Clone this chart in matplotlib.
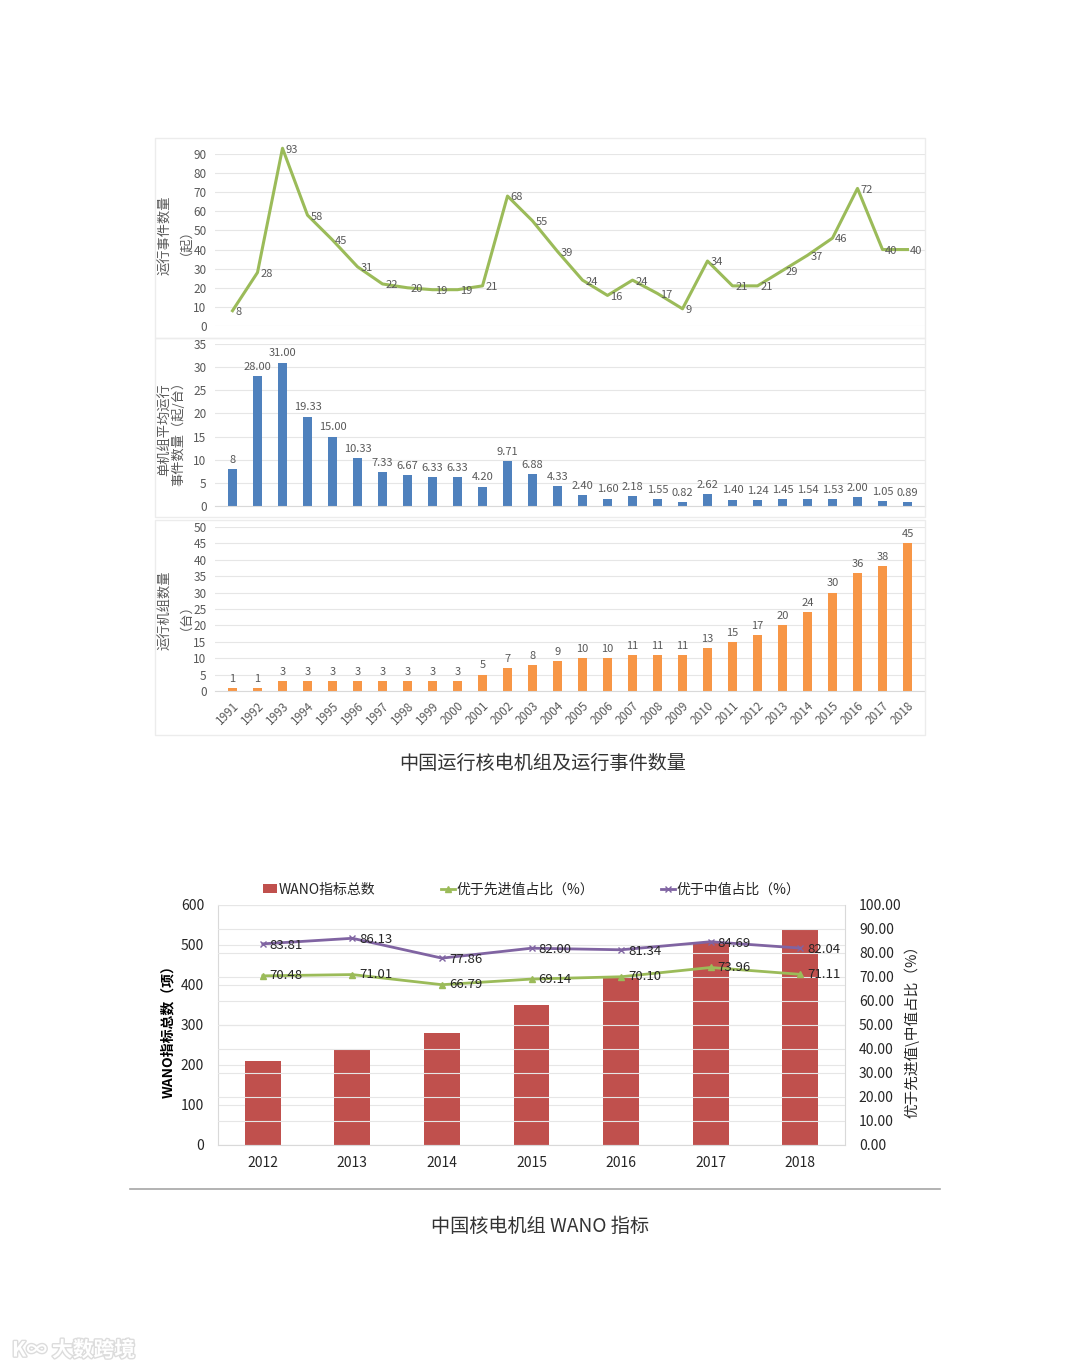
import matplotlib
matplotlib.use("Agg")
import matplotlib.pyplot as plt
from matplotlib.patches import Rectangle, Patch
from matplotlib.lines import Line2D
import matplotlib.patheffects as pe

plt.rcParams['font.family'] = ['Noto Sans CJK SC', 'DejaVu Sans']

W, H = 1080, 1369

# ---- data: chart 1 (1991-2018) ----
years = [str(y) for y in range(1991, 2019)]
events = [8, 28, 93, 58, 45, 31, 22, 20, 19, 19, 21, 68, 55, 39, 24, 16, 24, 17,
          9, 34, 21, 21, 29, 37, 46, 72, 40, 40]
per_unit = [8, 28.00, 31.00, 19.33, 15.00, 10.33, 7.33, 6.67, 6.33, 6.33, 4.20,
            9.71, 6.88, 4.33, 2.40, 1.60, 2.18, 1.55, 0.82, 2.62, 1.40, 1.24,
            1.45, 1.54, 1.53, 2.00, 1.05, 0.89]
per_unit_labels = ["8"] + ["%.2f" % v for v in per_unit[1:]]
units = [1, 1, 3, 3, 3, 3, 3, 3, 3, 3, 5, 7, 8, 9, 10, 10, 11, 11, 11, 13, 15,
         17, 20, 24, 30, 36, 38, 45]

# ---- data: chart 2 (WANO) ----
wano_years = ["2012", "2013", "2014", "2015", "2016", "2017", "2018"]
wano_total = [210, 238, 280, 350, 420, 505, 540]
better_adv = [70.48, 71.01, 66.79, 69.14, 70.10, 73.96, 71.11]
better_med = [83.81, 86.13, 77.86, 82.00, 81.34, 84.69, 82.04]

GREEN = "#9BBB59"
BLUE = "#4F81BD"
ORANGE = "#F79646"
RED = "#C0504D"
PURPLE = "#8064A2"
GRID = "#e6e6e6"
TXT = "#595959"

fig = plt.figure(figsize=(W / 100, H / 100), dpi=100)


def px_axes(x0, y0, x1, y1):
    # axes from pixel box (top-left origin)
    return fig.add_axes([x0 / W, 1 - y1 / H, (x1 - x0) / W, (y1 - y0) / H])


def fig_rect(x0, y0, x1, y1):
    fig.patches.append(Rectangle((x0 / W, 1 - y1 / H), (x1 - x0) / W, (y1 - y0) / H,
                                 transform=fig.transFigure, fill=False,
                                 edgecolor="#ececec", linewidth=1))


def style_panel(ax, ymax, step):
    ax.set_xlim(-0.7, 27.7)
    ax.set_ylim(0, ymax)
    ax.set_yticks(range(0, ymax + 1, step))
    ax.tick_params(axis="y", length=0, labelsize=8.5, labelcolor=TXT, pad=6)
    ax.grid(axis="y", color=GRID, linewidth=0.8)
    ax.set_axisbelow(True)
    for s in ["top", "right", "left"]:
        ax.spines[s].set_visible(False)
    ax.spines["bottom"].set_color("#d9d9d9")


def side_label(y, text):
    fig.text(172 / W, 1 - y / H, text, rotation=90, ha="center", va="center",
             fontsize=9.5, color=TXT, linespacing=1.0)


x = list(range(len(years)))

# panel frames
fig_rect(155, 138, 925, 338)
fig_rect(155, 338, 925, 517)
fig_rect(155, 520, 925, 735)

# panel 1: events line
ax1 = px_axes(215, 154, 925, 326)
style_panel(ax1, 90, 10)
ax1.spines["bottom"].set_visible(False)
ax1.plot(x, events, color=GREEN, linewidth=2.2, clip_on=False)
for xi, v in zip(x, events):
    ax1.annotate(str(v), (xi, v), xytext=(2, -1), textcoords="offset points",
                 ha="left", va="center", fontsize=8, color=TXT,
                 annotation_clip=False)
ax1.set_xticks([])
side_label(235, "运行事件数量\n（起）")

# panel 2: per-unit events
ax2 = px_axes(215, 344, 925, 506)
style_panel(ax2, 35, 5)
ax2.bar(x, per_unit, width=0.36, color=BLUE)
for xi, v, lab in zip(x, per_unit, per_unit_labels):
    ax2.annotate(lab, (xi, v), xytext=(0, 3), textcoords="offset points",
                 ha="center", va="bottom", fontsize=8, color=TXT)
ax2.set_xticks([])
side_label(430, "单机组平均运行\n事件数量（起/台）")

# panel 3: operating units
ax3 = px_axes(215, 527, 925, 691)
style_panel(ax3, 50, 5)
ax3.bar(x, units, width=0.34, color=ORANGE)
for xi, v in zip(x, units):
    ax3.annotate(str(v), (xi, v), xytext=(0, 3), textcoords="offset points",
                 ha="center", va="bottom", fontsize=8, color=TXT)
ax3.set_xticks(x)
ax3.set_xticklabels(years, rotation=45, ha="right", rotation_mode="anchor",
                    fontsize=8.5, color=TXT)
ax3.tick_params(axis="x", length=0, pad=6)
side_label(610, "运行机组数量\n（台）")

fig.text(543 / W, 1 - 763 / H, "中国运行核电机组及运行事件数量", ha="center",
         va="center", fontsize=13.8, color="#333333")

# ---- WANO chart ----
axw = px_axes(218, 905, 845, 1145)
wx = list(range(len(wano_years)))
axw.bar(wx, wano_total, width=0.4, color=RED, zorder=2)
axw.set_xlim(-0.5, 6.5)
axw.set_ylim(0, 600)
axw.set_yticks(range(0, 601, 100))
axw.set_xticks(wx)
axw.set_xticklabels(wano_years)
axw.tick_params(axis="both", length=0, labelsize=10, labelcolor="#262626")
axw.tick_params(axis="x", pad=8)
axw.tick_params(axis="y", pad=10)
axw.grid(axis="y", color=GRID, linewidth=0.8, zorder=0)
axw.set_axisbelow(True)
for s in ["top", "right"]:
    axw.spines[s].set_visible(False)
axw.spines["left"].set_color("#d9d9d9")
axw.spines["bottom"].set_color("#d9d9d9")

axr = axw.twinx()
axr.set_ylim(0, 100)
axr.set_yticks(range(0, 101, 10))
axr.set_yticklabels(["%.2f" % v for v in range(0, 101, 10)])
axr.tick_params(axis="y", length=0, labelsize=10, labelcolor="#262626", pad=10)
axr.grid(axis="y", color=GRID, linewidth=0.8)
for s in ["top", "left", "bottom"]:
    axr.spines[s].set_visible(False)
axr.spines["right"].set_color("#d9d9d9")
axr.plot(wx, better_adv, color=GREEN, linewidth=2, marker="^", markersize=4)
axr.plot(wx, better_med, color=PURPLE, linewidth=2, marker="x", markersize=4,
         markeredgewidth=1)
for xi, v in zip(wx, better_adv):
    axr.annotate("%.2f" % v, (xi, v), xytext=(5, 0), textcoords="offset points",
                 ha="left", va="center", fontsize=9.5, color="#262626")
for xi, v in zip(wx, better_med):
    axr.annotate("%.2f" % v, (xi, v), xytext=(5, -1), textcoords="offset points",
                 ha="left", va="center", fontsize=9.5, color="#262626")

handles = [Patch(facecolor=RED, label="WANO指标总数"),
           Line2D([], [], color=GREEN, marker="^", markersize=4, linewidth=2,
                  label="优于先进值占比（%）"),
           Line2D([], [], color=PURPLE, marker="x", markersize=4, linewidth=2,
                  label="优于中值占比（%）")]
axw.legend(handles=handles, ncol=3, loc="lower center", bbox_to_anchor=(0.5, 1.0),
           frameon=False, fontsize=10, handlelength=1.0, handletextpad=0.1,
           columnspacing=4.8, handleheight=0.6, borderaxespad=0.2,
           labelcolor="#262626")

fig.text(168 / W, 1 - 1028 / H, "WANO指标总数（项）", rotation=90, ha="center",
         va="center", fontsize=10, color="#000000", fontweight="bold")
fig.text(912 / W, 1 - 1028 / H, "优于先进值\\中值占比（%）", rotation=90,
         ha="center", va="center", fontsize=10.5, color="#262626")

fig.add_artist(Line2D([130 / W, 940 / W], [1 - 1189 / H, 1 - 1189 / H],
                      color="#a6a6a6", linewidth=1.2))
fig.text(540 / W, 1 - 1226 / H, "中国核电机组 WANO 指标", ha="center", va="center",
         fontsize=13.8, color="#333333")

# faint watermark
fig.text(12 / W, 1 - 1350 / H, "K∞ 大数跨境", ha="left", va="center",
         fontsize=15, color="#ffffff", fontweight="bold",
         path_effects=[pe.withStroke(linewidth=2, foreground="#dcdcdc")])

fig.savefig("out.png", dpi=100, facecolor="white")
